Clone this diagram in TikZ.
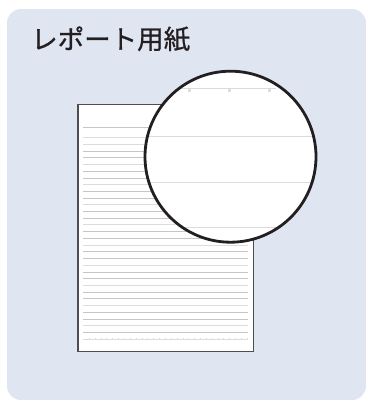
\documentclass[tikz,border=0pt]{standalone}
\usepackage{fontspec}
\newfontfamily\jpfont[FakeBold=0.8]{Noto Sans CJK JP}
\definecolor{panelbg}{HTML}{E0E5F2}
\definecolor{titletext}{HTML}{231F20}
\definecolor{paperedge}{HTML}{4D4D52}
\definecolor{rulegray}{HTML}{C6C6C6}
\definecolor{rulelight}{HTML}{DCDCDC}
\definecolor{rimcolor}{HTML}{231F20}
\tikzset{
  rule/.style={draw=rulegray, line width=0.7pt},
  rulesoft/.style={draw=rulelight, line width=1.1pt},
  tickrule/.style={draw=rulelight, line width=0.8pt},
  bigrule/.style={draw=rulelight, line width=1.2pt},
}
\begin{document}
\begin{tikzpicture}[x=1pt,y=-1pt]
\useasboundingbox (0,0) rectangle (366,400);
% panel
\fill[panelbg, rounded corners=14pt] (7,9) rectangle (366,400);
\node[anchor=west, inner sep=0pt, text=titletext, font=\jpfont\fontsize{26.5}{30}\selectfont] (title) at (31,39) {レポート用紙};
% sheet of paper
\node[draw=paperedge, line width=1.5pt, fill=white, minimum width=175.5pt, minimum height=247pt, inner sep=0pt] (paper) at (165.5,228.2) {};
\draw[rule] (83,127.3) -- (248,127.3);
\draw[tickrule] (83,137.7) -- (248,137.7);
\draw[tickrule] (83,339) -- (248,339);
\foreach \t in {0,...,27} {
  \draw[tickrule] (89.3+\t*5.85,137.7) -- ++(0,-1.2);
  \draw[tickrule] (89.3+\t*5.85,339) -- ++(0,-1.2);
}
\foreach \k in {1,4,...,28}
  \draw[rulesoft] (83,137.7+\k*6.71) -- (248,137.7+\k*6.71);
\foreach \k in {2,5,...,29}
  \draw[rule] (83,137.7+\k*6.71) -- (248,137.7+\k*6.71);
\foreach \k in {3,6,...,27}
  \draw[rule] (83,137.7+\k*6.71) -- (248,137.7+\k*6.71);
% magnifier
\node[circle, fill=white, minimum size=171pt, inner sep=0pt] (lens) at (230.5,156.7) {};
\begin{scope}
  \clip (lens.center) circle[radius=85.5pt];
  \draw[bigrule] (180,88.3) -- (276,88.3);
  \foreach \x in {189.3,229.3,269.3}
    \fill[rulelight] (\x-1.3,88.3) rectangle (\x+1.3,91.5);
  \draw[bigrule] (140,136.7) -- (320,136.7);
  \draw[bigrule] (140,182.7) -- (320,182.7);
  \draw[bigrule] (140,227.5) -- (320,227.5);
\end{scope}
\draw[rimcolor, line width=2.8pt] (lens.center) circle[radius=85.5pt];
\end{tikzpicture}
\end{document}
